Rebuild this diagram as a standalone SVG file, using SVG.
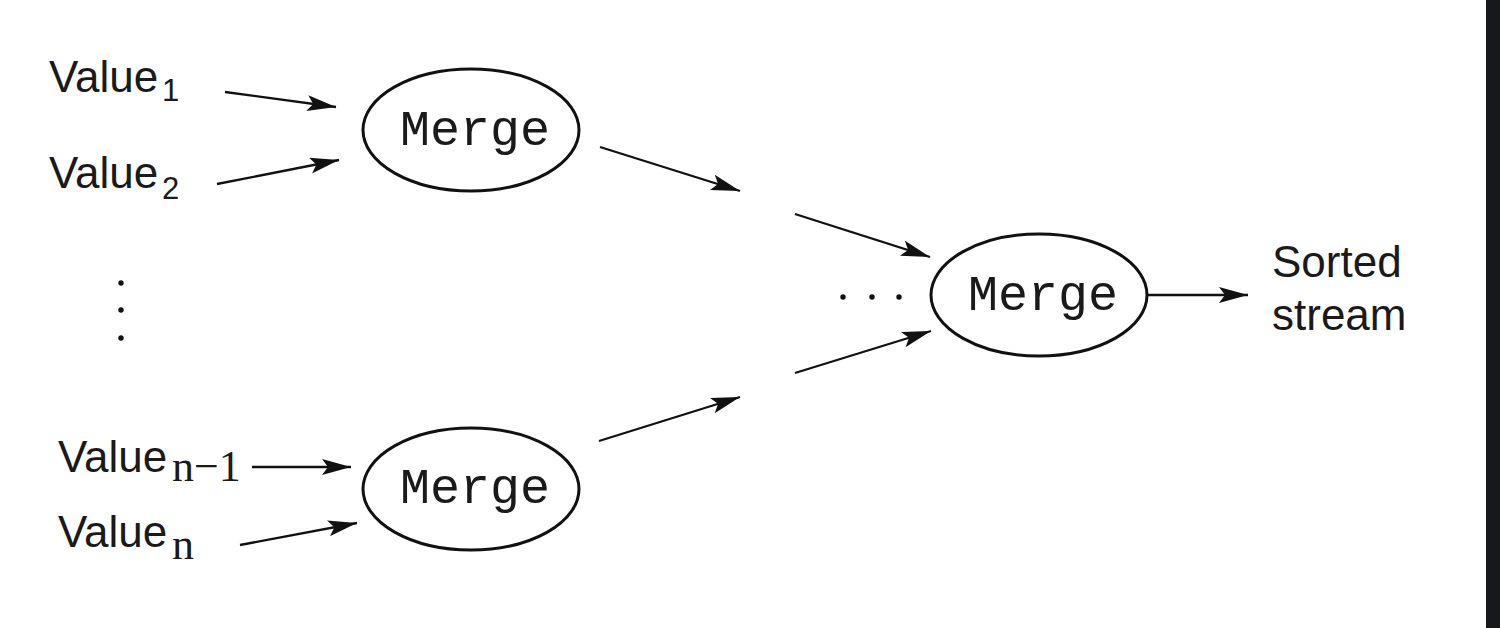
<svg xmlns="http://www.w3.org/2000/svg" width="1500" height="628" viewBox="0 0 1500 628">
<defs>
<style>
.lbl{font-family:"Liberation Sans",Arial,sans-serif;font-size:44px;fill:#1a1a1a}
.sub{font-family:"Liberation Sans",Arial,sans-serif;font-size:31px;fill:#1a1a1a}
.subs{font-family:"Liberation Serif","Times New Roman",serif;font-size:44px;fill:#1a1a1a}
.mono{font-family:"Liberation Mono","Courier New",monospace;font-size:50px;fill:#1a1a1a;text-anchor:middle}
.node{fill:#fff;stroke:#111;stroke-width:3}
.edge{stroke:#111;stroke-width:2.3;fill:none;marker-end:url(#arr)}
.dot{fill:#111}
</style>
<marker id="arr" viewBox="0 -8 29 16" markerWidth="29" markerHeight="16" refX="29" refY="0" orient="auto" markerUnits="userSpaceOnUse">
<path d="M0,-8 L29,0 L0,8 L6,0 z" fill="#111"/>
</marker>
</defs>
<rect x="0" y="0" width="1500" height="628" fill="#fff"/>
<rect x="1486" y="0" width="14" height="628" fill="#16181b"/>

<g id="connectors">
<line class="edge" x1="225" y1="92" x2="336" y2="107"/>
<line class="edge" x1="217" y1="184" x2="339" y2="160"/>
<line class="edge" x1="252" y1="467" x2="351" y2="467"/>
<line class="edge" x1="240" y1="545" x2="357" y2="523"/>
<line class="edge" x1="600" y1="147" x2="740" y2="191"/>
<line class="edge" x1="599" y1="441" x2="740" y2="397"/>
<line class="edge" x1="795" y1="214" x2="930" y2="257"/>
<line class="edge" x1="795" y1="373" x2="931" y2="331"/>
<line class="edge" x1="1147" y1="295" x2="1248" y2="295"/>
</g>

<g id="value1">
<text class="lbl" x="49" y="92">Value</text>
<text class="sub" x="162" y="101">1</text>
</g>
<g id="value2">
<text class="lbl" x="49" y="188">Value</text>
<text class="sub" x="162" y="199">2</text>
</g>
<g id="vdots">
<circle class="dot" cx="121" cy="283" r="2.7"/>
<circle class="dot" cx="121" cy="310" r="2.7"/>
<circle class="dot" cx="121" cy="338" r="2.7"/>
</g>
<g id="valuen1">
<text class="lbl" x="58" y="472">Value</text>
<text class="subs" x="172" y="481">n−1</text>
</g>
<g id="valuen">
<text class="lbl" x="58" y="547">Value</text>
<text class="subs" x="172" y="559">n</text>
</g>

<g id="merge1">
<ellipse class="node" cx="471" cy="130" rx="108" ry="61"/>
<text class="mono" x="475" y="145">Merge</text>
</g>
<g id="merge2">
<ellipse class="node" cx="471" cy="489" rx="108" ry="61"/>
<text class="mono" x="475" y="503">Merge</text>
</g>
<g id="hdots">
<circle class="dot" cx="843" cy="297" r="2.7"/>
<circle class="dot" cx="872" cy="297" r="2.7"/>
<circle class="dot" cx="899" cy="297" r="2.7"/>
</g>
<g id="merge3">
<ellipse class="node" cx="1039" cy="295" rx="108" ry="61"/>
<text class="mono" x="1043" y="310">Merge</text>
</g>
<g id="output">
<text class="lbl" x="1272" y="277">Sorted</text>
<text class="lbl" x="1272" y="330">stream</text>
</g>
</svg>
